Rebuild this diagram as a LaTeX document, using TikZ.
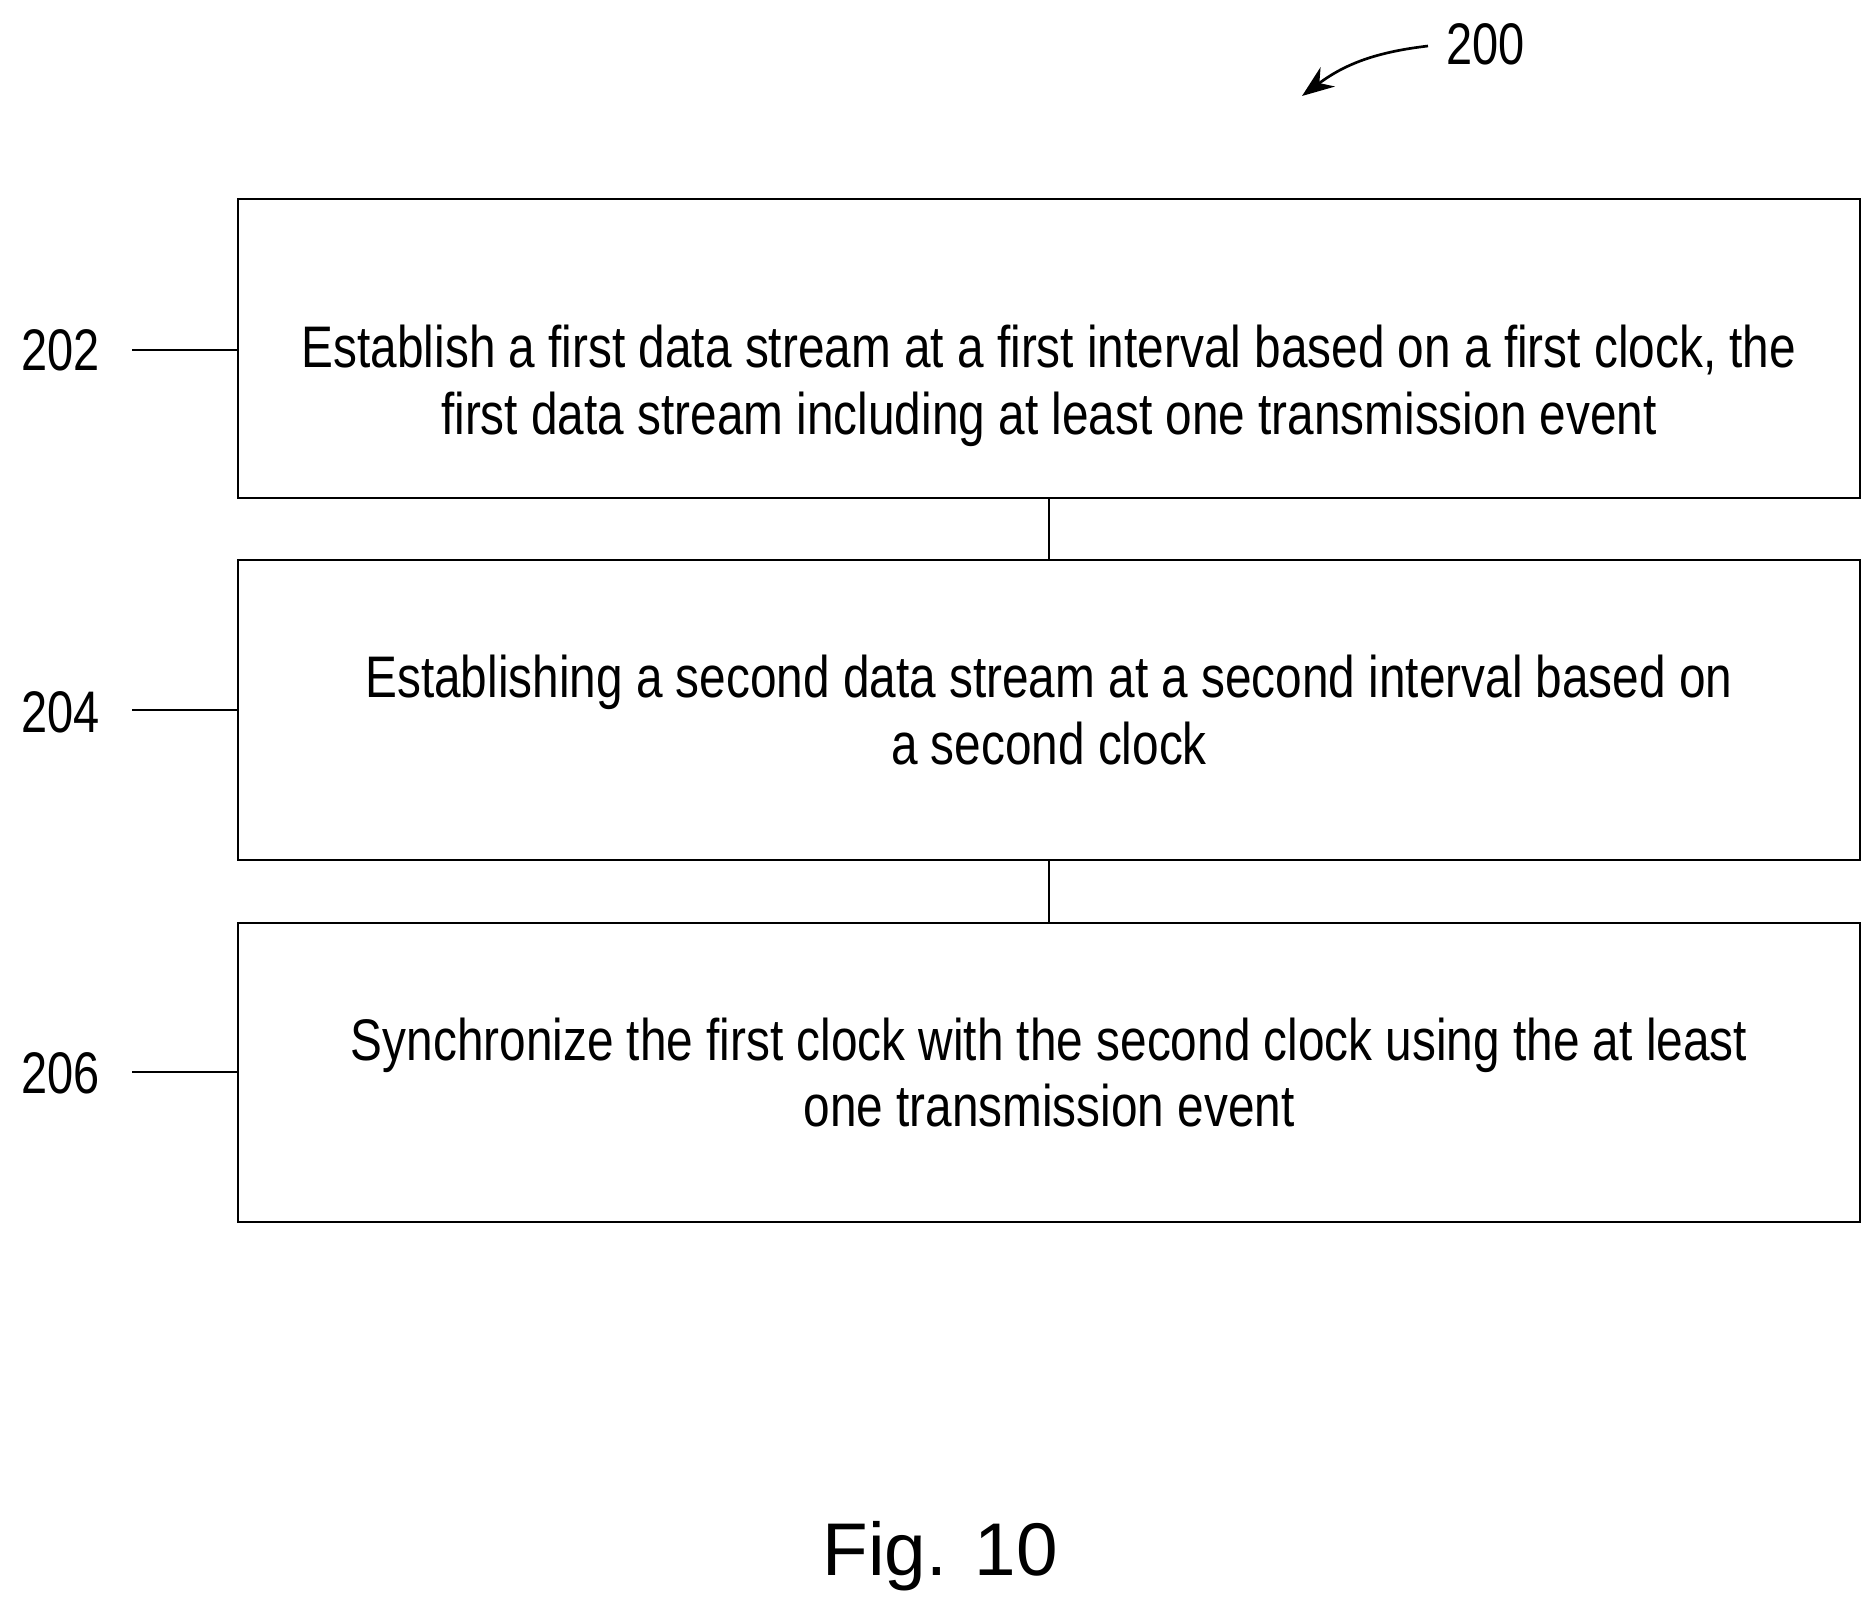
\documentclass[tikz,border=0pt]{standalone}
\usepackage{fontspec}
\setmainfont{Liberation Sans}
\usetikzlibrary{arrows.meta}
\begin{document}
\begin{tikzpicture}[x=0.75pt,y=-0.75pt,
  box/.style={draw,line width=1pt},
  lead/.style={line width=1pt},
  txt/.style={font=\fontsize{44}{50}\selectfont,align=center,inner sep=0pt}]
\useasboundingbox (0,0) rectangle (1872,1613);
\node[box,minimum width=1622*0.75pt,minimum height=299*0.75pt] (b1) at (1049,348.5) {};
\node[box,minimum width=1622*0.75pt,minimum height=300*0.75pt] (b2) at (1049,710) {};
\node[box,minimum width=1622*0.75pt,minimum height=299*0.75pt] (b3) at (1049,1072.5) {};
\node[txt] (t1) at ([yshift=-28pt]b1.center) {\scalebox{0.814}[1]{\parbox{2000pt}{\centering Establish a first data stream at a first interval based on a first clock, the\\first data stream including at least one transmission event}}};
\node[txt] (t2) at (b2) {\scalebox{0.814}[1]{\parbox{2000pt}{\centering Establishing a second data stream at a second interval based on\\a second clock}}};
\node[txt] (t3) at (b3) {\scalebox{0.814}[1]{\parbox{2000pt}{\centering Synchronize the first clock with the second clock using the at least\\one transmission event}}};
\draw[lead] (b1.south) -- (b2.north);
\draw[lead] (b2.south) -- (b3.north);
\node[txt,anchor=east] (l1) at (100,350) {\scalebox{0.8}[1]{202}};
\node[txt,anchor=east] (l2) at (100,712) {\scalebox{0.8}[1]{204}};
\node[txt,anchor=east] (l3) at (100,1073) {\scalebox{0.8}[1]{206}};
\coordinate (c1) at (132,350);\coordinate (c2) at (132,710);\coordinate (c3) at (132,1072);
\draw[lead] (c1) -- (b1.west|-c1);
\draw[lead] (c2) -- (b2.west|-c2);
\draw[lead] (c3) -- (b3.west|-c3);
\node[txt,anchor=west] (n200) at (1446,44) {\scalebox{0.8}[1]{200}};
\coordinate (a1) at (1428,46);
\coordinate (a2) at (1302,96);
\draw[line width=2pt,-{Stealth[length=24pt,width=18pt]}] (a1) to[bend right=15] (a2);
\node[font=\fontsize{56}{66}\selectfont] (fig) at (940,1556) {Fig. 10};
\end{tikzpicture}
\end{document}
